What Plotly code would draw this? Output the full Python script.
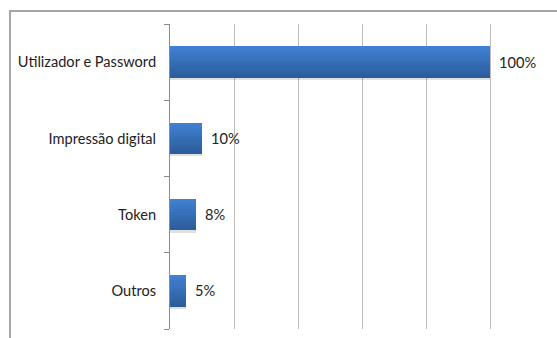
import plotly.graph_objects as go

# Authentication methods and share of respondents (%)
categories = ["Utilizador e Password", "Impressão digital", "Token", "Outros"]
values = [100, 10, 8, 5]
value_labels = ["100%", "10%", "8%", "5%"]
x_ticks = [0, 20, 40, 60, 80, 100, 120]

FONT = "Lato"
FONT_SIZE = 14.6
BAR_W = 0.41          # bar thickness in category units
N_STRIPES = 12        # stripes used to build the vertical gradient
TOP_RGB = (63, 128, 208)
BOT_RGB = (43, 92, 156)

fig = go.Figure()

# soft drop shadow under each bar
fig.add_trace(go.Bar(
    x=values, y=categories, orientation="h",
    width=BAR_W, offset=-BAR_W / 2 - 0.03,
    marker=dict(color="rgba(0,0,0,0.12)", line=dict(width=0)),
    hoverinfo="skip", showlegend=False,
))

# gradient body: stack thin stripes from dark (bottom) to light (top)
step = BAR_W / N_STRIPES
for i in range(N_STRIPES):
    t = i / (N_STRIPES - 1)
    r, g, b = (round(BOT_RGB[k] + (TOP_RGB[k] - BOT_RGB[k]) * t) for k in range(3))
    fig.add_trace(go.Bar(
        x=values, y=categories, orientation="h",
        width=step * 1.08, offset=-BAR_W / 2 + i * step,
        marker=dict(color=f"rgb({r},{g},{b})", line=dict(width=0)),
        hoverinfo="skip", showlegend=False,
    ))

# value labels to the right of each bar
for cat, v, lab in zip(categories, values, value_labels):
    fig.add_annotation(
        x=v, y=cat, text=lab, showarrow=False,
        xanchor="left", yanchor="middle", xshift=7,
        font=dict(family=FONT, size=FONT_SIZE, color="#222222"),
    )

# outer chart frame
fig.add_shape(
    type="rect", xref="paper", yref="paper",
    x0=-0.4167, x1=1.2, y0=-0.3, y1=1.0426,
    line=dict(color="#a6a6a6", width=2), layer="below",
)

fig.update_layout(
    width=557, height=338,
    margin=dict(l=170, r=3, t=24, b=9),
    paper_bgcolor="white", plot_bgcolor="white",
    barmode="overlay", bargap=0,
    font=dict(family=FONT, size=FONT_SIZE, color="#222222"),
    xaxis=dict(
        range=[0, 120], tickvals=x_ticks, showticklabels=False,
        showgrid=True, gridcolor="#bdbdbd", gridwidth=1,
        zeroline=False, showline=False, fixedrange=True,
    ),
    yaxis=dict(
        type="category", categoryorder="array",
        categoryarray=categories[::-1],
        showline=True, linecolor="#8c8c8c", linewidth=1,
        ticks="outside", tickson="boundaries", ticklen=5,
        tickcolor="#8c8c8c", ticklabelstandoff=10,
        showgrid=False, fixedrange=True,
        tickfont=dict(family=FONT, size=FONT_SIZE, color="#222222"),
    ),
)

fig.write_html("out.html")
